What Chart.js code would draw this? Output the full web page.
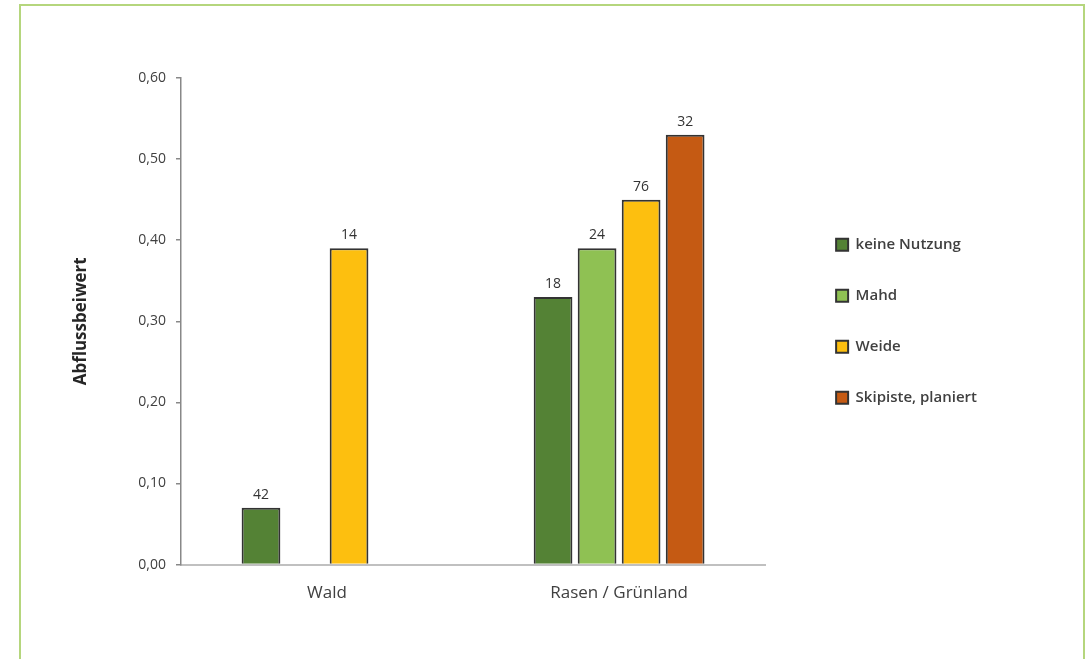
<!DOCTYPE html>
<html>
<head>
<meta charset="utf-8">
<script src="https://cdn.jsdelivr.net/npm/chart.js@4.4.1/dist/chart.umd.min.js"></script>
<style>
  html, body { margin: 0; padding: 0; background: #ffffff; }
  #wrap { position: relative; width: 1091px; height: 659px; overflow: hidden; }
  #frame { position: absolute; left: 19px; top: 4px; width: 1062px; height: 700px; border: 2px solid #B5D67D; box-sizing: content-box; pointer-events: none; }
  #c { position: absolute; left: 0; top: 0; }
</style>
</head>
<body>
<div id="wrap">
  <canvas id="c" width="1091" height="659"></canvas>
  <div id="frame"></div>
</div>
<script>
// ---- data ----
const categories = ["Wald", "Rasen / Grünland"];
const seriesNames = ["keine Nutzung", "Mahd", "Weide", "Skipiste, planiert"];
const keineNutzung = [0.07, 0.33];
const mahd = [null, 0.39];
const weide = [0.39, 0.45];
const skipiste = [null, 0.53];
const countsKeineNutzung = ["42", "18"];
const countsMahd = [null, "24"];
const countsWeide = ["14", "76"];
const countsSkipiste = [null, "32"];
const yTicks = [0, 0.1, 0.2, 0.3, 0.4, 0.5, 0.6];
const yTitle = "Abflussbeiwert";

const colors = ["#548235", "#8FC153", "#FDBF0F", "#C55A13"];
const FONT = "'Open Sans', 'DejaVu Sans', sans-serif";

const seriesValues = [keineNutzung, mahd, weide, skipiste];
const seriesCounts = [countsKeineNutzung, countsMahd, countsWeide, countsSkipiste];

const countLabels = {
  id: 'countLabels',
  afterDatasetsDraw(chart) {
    const ctx = chart.ctx;
    ctx.save();
    ctx.font = "14px " + FONT;
    ctx.fillStyle = "#333333";
    ctx.textAlign = "center";
    ctx.textBaseline = "bottom";
    chart.data.datasets.forEach((ds, di) => {
      const meta = chart.getDatasetMeta(di);
      meta.data.forEach((el, i) => {
        const lbl = ds.counts[i];
        if (lbl == null || ds.data[i] == null) return;
        ctx.fillText(lbl, el.x, el.y - 6);
      });
    });
    ctx.restore();
  }
};

function build() {
  new Chart(document.getElementById('c'), {
    type: 'bar',
    data: {
      labels: categories,
      datasets: seriesNames.map((name, i) => ({
        label: name,
        data: seriesValues[i],
        counts: seriesCounts[i],
        backgroundColor: colors[i],
        borderColor: "#333333",
        borderWidth: 2,
        categoryPercentage: 0.603,
        barPercentage: 0.88
      }))
    },
    options: {
      responsive: false,
      animation: false,
      layout: { padding: { left: 20, top: 78, right: 104, bottom: 46 } },
      plugins: {
        legend: {
          position: 'right',
          align: 'center',
          fullSize: false,
          maxWidth: 400,
          labels: {
            boxWidth: 12, boxHeight: 12, padding: 36,
            color: "#404040",
            font: { family: FONT, size: 15, weight: '600' }
          }
        },
        tooltip: { enabled: false }
      },
      scales: {
        x: {
          grid: { display: false },
          border: { display: true, color: "#C0C0C0", width: 2 },
          ticks: { color: "#404040", padding: 10, font: { family: FONT, size: 17 } }
        },
        y: {
          min: 0, max: 0.6,
          afterBuildTicks(scale) { scale.ticks = yTicks.map(v => ({ value: v })); },
          afterFit(scale) { scale.width = 161; },
          grid: { display: true, drawOnChartArea: false, drawTicks: true, tickLength: 5, color: "#888888", lineWidth: 1.5 },
          border: { display: true, color: "#888888", width: 1.5 },
          ticks: {
            color: "#404040", padding: 10,
            font: { family: FONT, size: 14 },
            callback: (v) => Number(v).toFixed(2).replace('.', ',')
          },
          title: {
            display: true, text: yTitle, color: "#262626",
            font: { family: FONT, size: 17, weight: 'bold' },
            padding: { top: 51, bottom: 0 }
          }
        },
        gap: {
          position: 'right',
          display: true,
          grid: { display: false },
          border: { display: false },
          ticks: { display: false },
          afterFit(scale) { scale.width = 35; }
        }
      }
    },
    plugins: [countLabels]
  });
}

const fontLoads = [
  "14px 'Open Sans'", "bold 17px 'Open Sans'", "600 15px 'Open Sans'", "17px 'Open Sans'"
].map(f => document.fonts.load(f).catch(() => null));
Promise.all(fontLoads).then(build, build);
</script>
</body>
</html>
